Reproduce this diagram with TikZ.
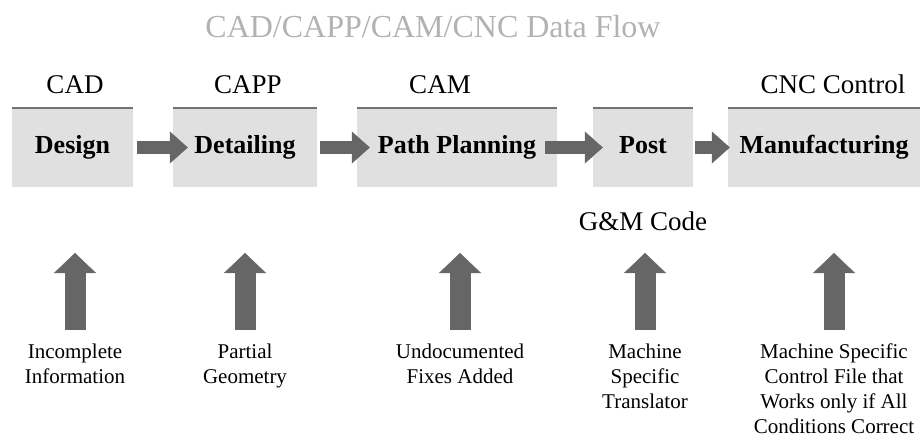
\documentclass[tikz,border=0pt]{standalone}
\usepackage{fontspec}
\setmainfont{Liberation Serif}
\usepackage{tikz}
\usetikzlibrary{arrows.meta}

\tikzset{
  title/.style={font=\fontsize{32}{36}\selectfont, text=black!30, anchor=base},
  toplabel/.style={font=\fontsize{27}{32}\selectfont, anchor=base},
  stagebox/.style={rectangle, fill=black!12, inner sep=0pt, minimum height=79pt,
                   text height=18pt, text depth=6pt,
                   font=\bfseries\fontsize{26}{30}\selectfont},
  topbar/.style={black!55, line width=2.5pt},
  note/.style={font=\fontsize{21}{25}\selectfont, align=center, anchor=north, inner sep=0pt},
  fatarrow/.style={black!60, line width=13pt,
                   -{Triangle[width=32pt,length=18pt,line width=0.5pt]}},
  uparrow/.style={black!60, line width=21pt,
                  -{Triangle[width=42pt,length=20pt,line width=0.5pt]}}
}

\begin{document}
\begin{tikzpicture}[x=1pt,y=-1pt]
                \useasboundingbox (0,0) rectangle (921,439);

                \node[title]    (head)  at (433,37)  {CAD/CAPP/CAM/CNC Data Flow};

                \node[toplabel] (cad)   at (75,93)   {CAD};
                \node[toplabel] (capp)  at (248,93)  {CAPP};
                \node[toplabel] (cam)   at (440,93)  {CAM};
                \node[toplabel] (cnc)   at (833,93)  {CNC Control};

                \node[stagebox, minimum width=121pt] (design)    at (72.5,147.5) {Design};
                \node[stagebox, minimum width=144pt] (detailing) at (245,147.5)  {Detailing};
                \node[stagebox, minimum width=200pt] (pathplan)  at (457,147.5)  {Path Planning};
                \node[stagebox, minimum width=100pt] (post)      at (643,147.5)  {Post};
                \node[stagebox, minimum width=192pt] (manuf)     at (824,147.5)  {Manufacturing};

                \foreach \b in {design,detailing,pathplan,post,manuf}
                  \draw[topbar] (\b.north west) -- (\b.north east);

                \node[toplabel] (gmcode) at (643,230) {G\&M Code};

                \path[fatarrow]
                (design)    edge [shorten <=4pt,  shorten >=-15pt] (detailing)
                (detailing) edge [shorten <=3pt,  shorten >=-13pt] (pathplan)
                (pathplan)  edge [shorten <=-12pt, shorten >=-10pt] (post)
                (post)      edge [shorten <=2pt,  shorten >=-2pt]  (manuf);

                \node[note] (incomp) at (75,344)  {Incomplete\\Information};
                \node[note] (partial) at (245,344) {Partial\\Geometry};
                \node[note] (undoc)  at (460,344) {Undocumented\\Fixes Added};
                \node[note] (transl) at (645,344) {Machine\\Specific\\Translator};
                \node[note] (ctrl)   at (834,344) {Machine Specific\\Control File that\\Works only if All\\Conditions Correct};

                \coordinate (tip1) at (75,253);
                \coordinate (tip2) at (245,253);
                \coordinate (tip3) at (460,253);
                \coordinate (tip4) at (645,253);
                \coordinate (tip5) at (834,253);

                \path[uparrow, shorten <=14pt]
                (incomp)  edge (tip1)
                (partial) edge (tip2)
                (undoc)   edge (tip3)
                (transl)  edge (tip4)
                (ctrl)    edge (tip5);
\end{tikzpicture}
\end{document}
